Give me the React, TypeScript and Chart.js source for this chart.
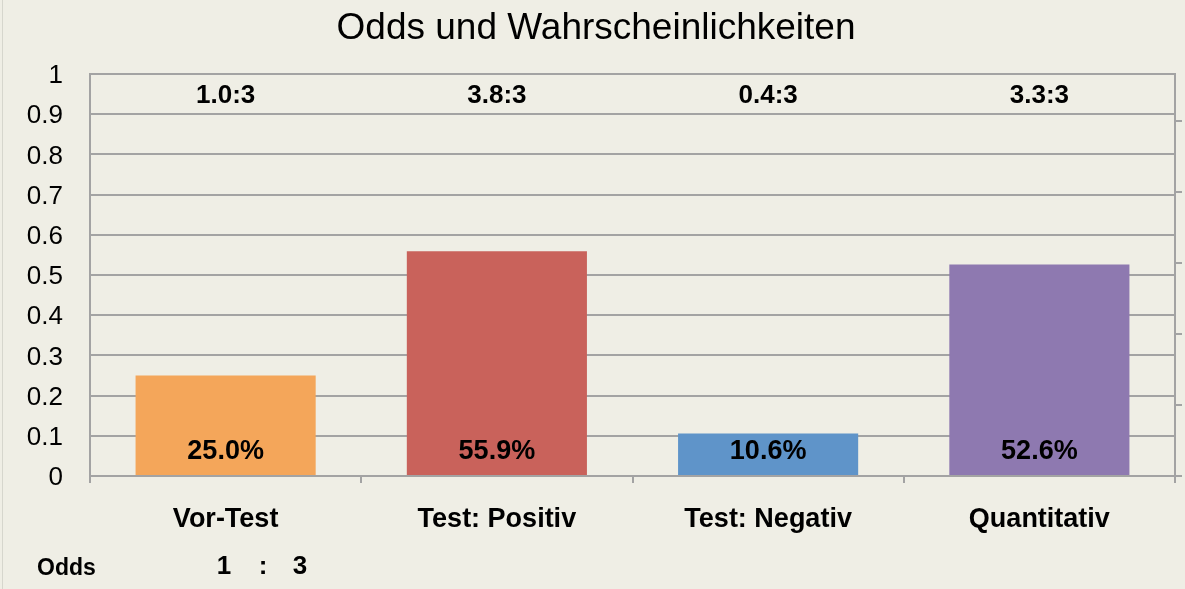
import React, { useEffect, useRef } from 'react';
import { Chart, registerables } from 'chart.js';

Chart.register(...registerables);

const chartTitle = 'Odds und Wahrscheinlichkeiten';
const categories = ['Vor-Test', 'Test: Positiv', 'Test: Negativ', 'Quantitativ'];
const probabilities = [0.25, 0.559, 0.106, 0.526];
const percentLabels = ['25.0%', '55.9%', '10.6%', '52.6%'];
const oddsLabels = ['1.0:3', '3.8:3', '0.4:3', '3.3:3'];
const barColors = ['#F4A65A', '#C9625B', '#5F94C9', '#8E79B0'];
const yTicks = [0, 0.1, 0.2, 0.3, 0.4, 0.5, 0.6, 0.7, 0.8, 0.9, 1];
const yTickLabels = ['0', '0.1', '0.2', '0.3', '0.4', '0.5', '0.6', '0.7', '0.8', '0.9', '1'];
const secondaryTicks = [0, 1, 2, 3, 4, 5];
const secondaryMax = 5.66;
const oddsRowLabel = 'Odds';
const oddsRowValues = ['1', ':', '3'];

const FONT = "'Liberation Sans', Arial, Helvetica, sans-serif";
const BG = '#EFEEE5';
const GRID = '#A3A3A3';

const textPlugin = {
  id: 'textPlugin',
  afterDraw(chart: any) {
    const ctx = chart.ctx;
    const xs = chart.scales.x;
    const ys = chart.scales.y;
    ctx.save();
    ctx.fillStyle = '#000';
    ctx.textAlign = 'center';
    ctx.textBaseline = 'middle';
    // title
    ctx.font = `normal 37px ${FONT}`;
    ctx.fillText(chartTitle, 596, 29);
    // odds labels on top
    ctx.font = `bold 26px ${FONT}`;
    oddsLabels.forEach((t, i) => {
      ctx.fillText(t, xs.getPixelForValue(i), ys.getPixelForValue(0.95) + 2);
    });
    // percent labels inside bars
    ctx.font = `bold 27px ${FONT}`;
    percentLabels.forEach((t, i) => {
      ctx.fillText(t, xs.getPixelForValue(i), ys.getPixelForValue(0) - 24);
    });
    // odds row
    ctx.font = `bold 23px ${FONT}`;
    ctx.textAlign = 'left';
    ctx.fillText(oddsRowLabel, 37, 569);
    ctx.textAlign = 'center';
    ctx.font = `bold 26px ${FONT}`;
    const ox = [224, 263, 300];
    oddsRowValues.forEach((t, i) => ctx.fillText(t, ox[i], 567));
    ctx.restore();
  },
};

export default function App() {
  const ref = useRef<HTMLCanvasElement | null>(null);
  useEffect(() => {
    document.body.style.margin = '0';
    document.body.style.background = BG;
    const canvas = ref.current!;
    const chart = new Chart(canvas, {
      type: 'bar',
      data: {
        labels: categories,
        datasets: [
          {
            data: probabilities,
            backgroundColor: barColors,
            borderWidth: 0,
            barPercentage: 0.664,
            categoryPercentage: 1,
            yAxisID: 'y',
          },
        ],
      },
      options: {
        responsive: false,
        animation: false,
        devicePixelRatio: 1,
        layout: { padding: { top: 74, left: 0, right: 0, bottom: 0 } },
        plugins: {
          legend: { display: false },
          title: { display: false },
          tooltip: { enabled: false },
        },
        scales: {
          x: {
            type: 'category',
            position: 'bottom',
            grid: {
              offset: true,
              drawOnChartArea: false,
              drawTicks: true,
              tickLength: 7,
              color: GRID,
              lineWidth: 2,
            },
            border: { display: true, color: GRID, width: 2 },
            ticks: {
              color: '#000',
              padding: 20,
              font: { family: FONT, size: 27, weight: 'bold' },
              maxRotation: 0,
            },
            afterFit: (s: any) => {
              s.height = 113;
            },
          },
          y: {
            type: 'linear',
            position: 'left',
            min: 0,
            max: 1,
            afterBuildTicks: (s: any) => {
              s.ticks = yTicks.map((v) => ({ value: v }));
            },
            ticks: {
              color: '#000',
              padding: 27,
              labelOffset: 2,
              font: { family: FONT, size: 26 },
              callback: (_v: any, i: number) => yTickLabels[i],
            },
            grid: { color: GRID, lineWidth: 2, drawTicks: false },
            border: { display: true, color: GRID, width: 2 },
            afterFit: (s: any) => {
              s.width = 90;
            },
          },
          y2: {
            type: 'linear',
            position: 'right',
            min: 0,
            max: secondaryMax,
            afterBuildTicks: (s: any) => {
              s.ticks = secondaryTicks.map((v) => ({ value: v }));
            },
            ticks: { display: false },
            grid: {
              drawOnChartArea: false,
              drawTicks: true,
              tickLength: 7,
              color: GRID,
              lineWidth: 2,
            },
            border: { display: true, color: GRID, width: 2 },
            afterFit: (s: any) => {
              s.width = 10;
            },
          },
        },
      },
      plugins: [textPlugin],
    } as any);
    return () => chart.destroy();
  }, []);

  return (
    <div style={{ position: 'relative', width: 1185, height: 589, background: BG }}>
      <canvas ref={ref} width={1185} height={589} style={{ display: 'block' }} />
      <div
        style={{
          position: 'absolute',
          left: 2,
          top: 0,
          width: 1,
          height: 589,
          background: '#D6D6CD',
        }}
      />
    </div>
  );
}
